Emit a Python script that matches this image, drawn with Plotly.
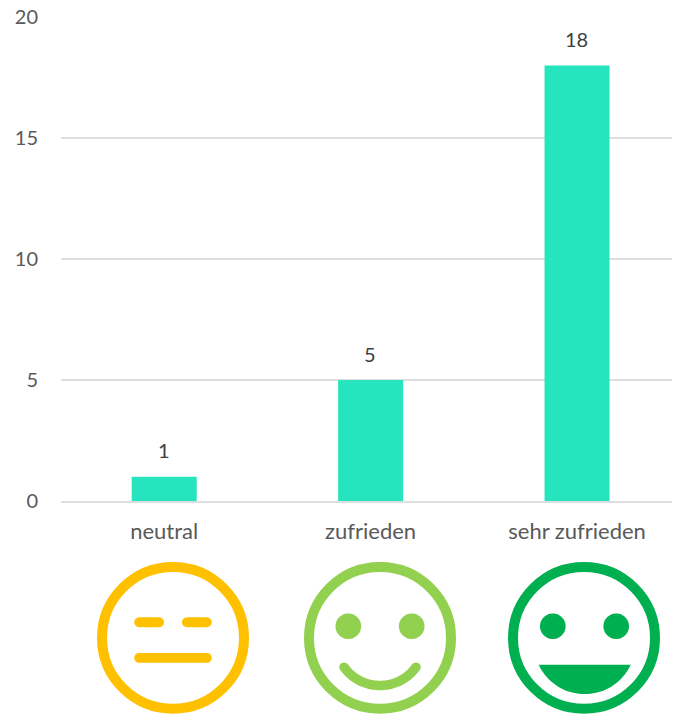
import math
import plotly.graph_objects as go

categories = ["neutral", "zufrieden", "sehr zufrieden"]
values = [1, 5, 18]
y_ticks = [0, 5, 10, 15, 20]

W, H = 674, 714
L, R, T, B = 61, 2, 16.5, 212.5
PW, PH = W - L - R, H - T - B
FONT = "Lato"
YELLOW, LIGHT, DARK = "#FFC000", "#92D050", "#00B050"
GRID = "#DEDEDE"


def px(x):
    return (x - L) / PW


def py(y):
    return 1 - (y + 0.7 - T) / PH


def pth(points):
    return "M" + "L".join(f"{px(x):.5f},{py(y):.5f}" for x, y in points) + "Z"


def arc(cx, cy, r, a0, a1, n=40):
    return [(cx + r * math.cos(a0 + (a1 - a0) * i / n), cy + r * math.sin(a0 + (a1 - a0) * i / n)) for i in range(n + 1)]


def fill(points, color):
    return dict(type="path", xref="paper", yref="paper", path=pth(points), fillcolor=color, line_width=0, layer="above")


def pill(x0, x1, yc, h, color):
    r = h / 2
    pts = arc(x1 - r, yc, r, -math.pi / 2, math.pi / 2, 12) + arc(x0 + r, yc, r, math.pi / 2, 3 * math.pi / 2, 12)
    return fill(pts, color)


def disc(cx, cy, r, color):
    return fill(arc(cx, cy, r, 0, 2 * math.pi, 60)[:-1], color)


def ring(cx, cy, r, color):
    return dict(type="circle", xref="paper", yref="paper", x0=px(cx - r), x1=px(cx + r), y0=py(cy + r), y1=py(cy - r),
                line=dict(color=color, width=10), fillcolor="rgba(0,0,0,0)", layer="above")


def smile(cx, cy, r, half_angle, w, color):
    a0, a1 = math.pi / 2 + half_angle, math.pi / 2 - half_angle
    outer = arc(cx, cy, r + w / 2, a0, a1)
    inner = arc(cx, cy, r - w / 2, a1, a0)
    e1 = (cx + r * math.cos(a1), cy + r * math.sin(a1))
    e0 = (cx + r * math.cos(a0), cy + r * math.sin(a0))
    cap1 = arc(e1[0], e1[1], w / 2, a1, a1 - math.pi, 10)
    cap0 = arc(e0[0], e0[1], w / 2, a0 + math.pi, a0, 10)
    return fill(outer + cap1 + inner + cap0, color)


shapes = [
    ring(173, 638, 71, YELLOW),
    pill(134.3, 164, 622.3, 10, YELLOW),
    pill(182, 211.7, 622.3, 10, YELLOW),
    pill(134.3, 211.7, 658, 10, YELLOW),
    ring(380, 638, 71, LIGHT),
    disc(348.3, 626.3, 12.8, LIGHT),
    disc(411.7, 626.3, 12.8, LIGHT),
    smile(380, 641.3, 44.4, math.asin(36 / 44.4), 9.5, LIGHT),
    ring(584, 638, 71, DARK),
    disc(552.8, 626.3, 12.8, DARK),
    disc(616.2, 626.3, 12.8, DARK),
    fill(arc(584.7, 665 - (50.7 - 29.3), 50.7, math.asin(21.4 / 50.7), math.pi - math.asin(21.4 / 50.7)), DARK),
]

annotations = [
    dict(x=i, y=v, xref="x", yref="y", text=str(v), showarrow=False, yanchor="middle", yshift=26.5, xshift=-0.5,
         font=dict(family=FONT, size=20, color="#404040"))
    for i, v in enumerate(values)
]

fig = go.Figure(go.Bar(x=[0, 1, 2], y=values, width=0.315, marker=dict(color="#26E4BE", line_width=0)))
fig.update_layout(
    width=W, height=H, autosize=False, showlegend=False, paper_bgcolor="white", plot_bgcolor="white",
    margin=dict(l=L, r=R, t=T, b=B, pad=0), shapes=shapes, annotations=annotations,
    font=dict(family=FONT, size=20, color="#595959"),
    xaxis=dict(range=[-0.5, 2.46], tickmode="array", tickvals=[0, 1, 2], ticktext=categories,
               tickfont=dict(size=22), showgrid=False, showline=True, linecolor=GRID, linewidth=2, zeroline=False,
               ticks="outside", ticklen=10, tickcolor="rgba(0,0,0,0)", fixedrange=True),
    yaxis=dict(range=[0, 20.002], tickmode="array", tickvals=y_ticks, showgrid=True, gridcolor=GRID, gridwidth=2,
               zeroline=False, ticks="outside", ticklen=18, tickcolor="rgba(0,0,0,0)", fixedrange=True),
)
fig.write_html("out.html", config=dict(displayModeBar=False),
               post_script="document.body.style.margin='0';document.documentElement.style.overflow='hidden';")
